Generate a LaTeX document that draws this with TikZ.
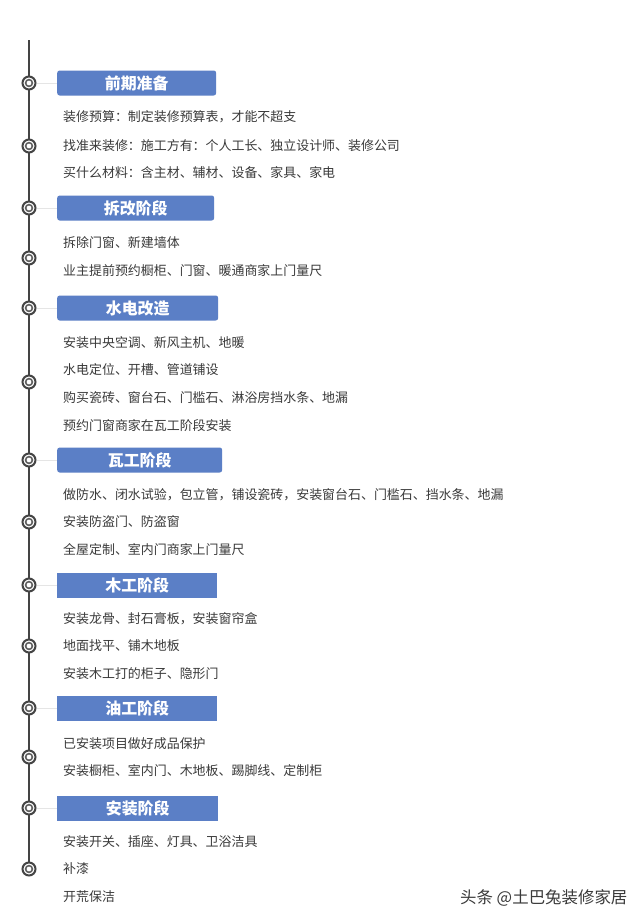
\documentclass[tikz,border=0pt]{standalone}
\usepackage{fontspec}
\setmainfont{Noto Sans CJK SC}
\usetikzlibrary{positioning}
\definecolor{stageblue}{HTML}{5B7FC6}
\definecolor{spinegray}{HTML}{444444}
\definecolor{textgray}{HTML}{3A3A3A}
\tikzset{
  milestone/.style={circle, draw=spinegray, line width=2bp, fill=white,
    minimum size=13bp, inner sep=0pt,
    path picture={\draw[spinegray!85, line width=1.6bp]
      (path picture bounding box.center) circle (3.4bp);}},
  stage/.style={fill=stageblue, text=white, anchor=west, inner sep=0pt,
    minimum height=25bp, font=\fontsize{16}{16}\selectfont\bfseries},
  roundstage/.style={stage, rounded corners=2.5bp},
  entry/.style={text=textgray, anchor=west, inner sep=0pt,
    font=\fontsize{13}{13}\selectfont},
  spine/.style={draw=spinegray, line width=2bp},
  link/.style={draw=black!10, line width=0.8bp}
}

\begin{document}
\begin{tikzpicture}[x=1bp, y=-1bp]
  \useasboundingbox[fill=white] (0,0) rectangle (640,924);

  % timeline
  \coordinate (top) at (29,40);
  \coordinate (bottom) at (29,869);
  \draw[spine] (top) -- (bottom);

  \node[milestone] (c1) at (29,83) {};
  \node[milestone] (c2) at (29,146) {};
  \node[milestone] (c3) at (29,208) {};
  \node[milestone] (c4) at (29,258) {};
  \node[milestone] (c5) at (29,308) {};
  \node[milestone] (c6) at (29,382) {};
  \node[milestone] (c7) at (29,460) {};
  \node[milestone] (c8) at (29,522) {};
  \node[milestone] (c9) at (29,585) {};
  \node[milestone] (c10) at (29,646) {};
  \node[milestone] (c11) at (29,708) {};
  \node[milestone] (c12) at (29,757) {};
  \node[milestone] (c13) at (29,808) {};
  \node[milestone] (c14) at (29,869) {};

  % stages
  \node[roundstage, minimum width=159bp] (h1) at (57,83) {前期准备};
  \node[roundstage, minimum width=157bp] (h2) at (57,208) {拆改阶段};
  \node[roundstage, minimum width=161bp] (h3) at (57,308) {水电改造};
  \node[roundstage, minimum width=165bp] (h4) at (57,460) {瓦工阶段};
  \node[stage, minimum width=160bp] (h5) at (57,585) {木工阶段};
  \node[stage, minimum width=160bp] (h6) at (57,708) {油工阶段};
  \node[stage, minimum width=161bp] (h7) at (57,808) {安装阶段};

  \draw[link] (c1) -- (h1);
  \draw[link] (c3) -- (h2);
  \draw[link] (c5) -- (h3);
  \draw[link] (c7) -- (h4);
  \draw[link] (c9) -- (h5);
  \draw[link] (c11) -- (h6);
  \draw[link] (c13) -- (h7);

  % items
  \node[entry] (t1) at (63,117) {装修预算：制定装修预算表，才能不超支};
  \node[entry] (t2) at (63,146) {找准来装修：施工方有：个人工长、独立设计师、装修公司};
  \node[entry] (t3) at (63,173) {买什么材料：含主材、辅材、设备、家具、家电};
  \node[entry] (t4) at (63,243) {拆除门窗、新建墙体};
  \node[entry] (t5) at (63,271) {业主提前预约橱柜、门窗、暖通商家上门量尺};
  \node[entry] (t6) at (63,343) {安装中央空调、新风主机、地暖};
  \node[entry] (t7) at (63,370) {水电定位、开槽、管道铺设};
  \node[entry] (t8) at (63,398) {购买瓷砖、窗台石、门槛石、淋浴房挡水条、地漏};
  \node[entry] (t9) at (63,426) {预约门窗商家在瓦工阶段安装};
  \node[entry] (t10) at (63,495) {做防水、闭水试验，包立管，铺设瓷砖，安装窗台石、门槛石、挡水条、地漏};
  \node[entry] (t11) at (63,522) {安装防盗门、防盗窗};
  \node[entry] (t12) at (63,550) {全屋定制、室内门商家上门量尺};
  \node[entry] (t13) at (63,619) {安装龙骨、封石膏板，安装窗帘盒};
  \node[entry] (t14) at (63,646) {地面找平、铺木地板};
  \node[entry] (t15) at (63,674) {安装木工打的柜子、隐形门};
  \node[entry] (t16) at (63,744) {已安装项目做好成品保护};
  \node[entry] (t17) at (63,771) {安装橱柜、室内门、木地板、踢脚线、定制柜};
  \node[entry] (t18) at (63,842) {安装开关、插座、灯具、卫浴洁具};
  \node[entry] (t19) at (63,869) {补漆};
  \node[entry] (t20) at (63,897) {开荒保洁};

  \node[entry, font=\fontsize{16.5}{16.5}\selectfont] (mark) at (460,898) {头条 @土巴兔装修家居};
\end{tikzpicture}
\end{document}
